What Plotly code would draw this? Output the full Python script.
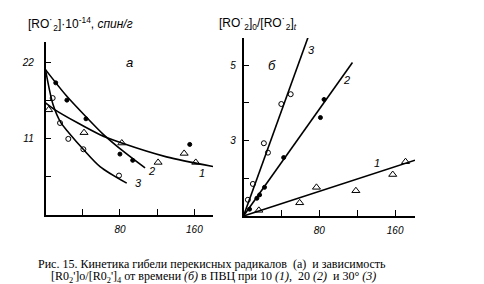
import plotly.graph_objects as go

# ---- data: panel a (decay of peroxy radicals) ----
a_t1 = [3.4, 41.4, 82, 121, 149, 161.5]
a_y1 = [15.2, 11.9, 10.4, 7.6, 8.9, 7.6]
a_t2 = [11, 23, 43.5, 80, 93.7, 155]
a_y2 = [19.1, 16.6, 13.9, 8.8, 7.9, 10.2]
a_t3 = [7.7, 15.6, 24.5, 40.7, 79]
a_y3 = [16.9, 13.3, 11.0, 9.5, 5.7]
# fitted curves
a_c1x = [0, 10.2, 58.6, 82, 130, 180]
a_c1y = [16.2, 15.2, 11.6, 10.4, 8.4, 7.0]
a_c2x = [0, 22, 43.5, 61.8, 85.5, 107]
a_c2y = [21.0, 17.3, 14.2, 11.7, 9.0, 6.8]
a_c3x = [0, 8, 16.7, 25, 40.6, 58.6, 87.3]
a_c3y = [21.0, 16.0, 13.3, 11.9, 9.5, 7.0, 4.6]

# ---- data: panel b ([RO2]0/[RO2]t vs time) ----
b_t1 = [16.2, 59.3, 77, 118.6, 157.5, 171]
b_y1 = [1.15, 1.35, 1.76, 1.67, 2.1, 2.44]
b_t2 = [6.4, 14.1, 17, 22.2, 42.4, 81.2, 85]
b_y2 = [1.18, 1.47, 1.56, 1.76, 2.55, 3.61, 4.09]
b_t3 = [4.6, 9.9, 21.5, 25.8, 39.9, 49.8]
b_y3 = [1.43, 1.85, 2.93, 2.68, 3.97, 4.23]
b_l1x = [0, 181]
b_l1y = [1, 2.48]
b_l2x = [0, 115]
b_l2y = [1, 5.07]
b_l3x = [0, 70.6]
b_l3y = [1, 5.91]

a_tickvals_x = [40, 80, 120, 160]
a_ticktext_x = ["", "80", "", "160"]
a_tickvals_y = [5.5, 11, 16.5, 22]
a_ticktext_y = ["", "11", "", "22"]
b_tickvals_x = [40, 80, 120, 160]
b_ticktext_x = ["", "80", "", "160"]
b_tickvals_y = [2, 3, 4, 5]
b_ticktext_y = ["", "3", "", "5"]

caption1 = "Рис. 15. Кинетика гибели перекисных радикалов  (а)  и зависимость"
caption2 = ("[R0<sub>2</sub>']o/[R0<sub>2</sub>']<sub>4</sub> от времени <i>(б)</i> в ПВЦ при 10 <i>(1)</i>,  "
            "20 <i>(2)</i>  и 30° <i>(3)</i>")

fig = go.Figure()
K = "black"
lw = 1.6

def line(x, y, xa, ya, shape="spline"):
    fig.add_trace(go.Scatter(x=x, y=y, mode="lines", xaxis=xa, yaxis=ya,
                             line=dict(color=K, width=lw, shape=shape, smoothing=0.8),
                             showlegend=False, hoverinfo="skip"))

def pts(x, y, xa, ya, sym, size):
    fig.add_trace(go.Scatter(x=x, y=y, mode="markers", xaxis=xa, yaxis=ya,
                             marker=dict(symbol=sym, size=size, color=K,
                                         line=dict(color=K, width=1)),
                             showlegend=False, hoverinfo="skip"))

# panel a
line(a_c1x, a_c1y, "x", "y")
line(a_c2x, a_c2y, "x", "y")
line(a_c3x, a_c3y, "x", "y")
pts(a_t1, a_y1, "x", "y", "triangle-up-open", 7)
pts(a_t2, a_y2, "x", "y", "circle", 4)
pts(a_t3, a_y3, "x", "y", "circle-open", 5)
# panel b
line(b_l1x, b_l1y, "x2", "y2", "linear")
line(b_l2x, b_l2y, "x2", "y2", "linear")
line(b_l3x, b_l3y, "x2", "y2", "linear")
pts(b_t1, b_y1, "x2", "y2", "triangle-up-open", 7)
pts(b_t2, b_y2, "x2", "y2", "circle", 4)
pts(b_t3, b_y3, "x2", "y2", "circle-open", 5)

tickfont = dict(family="Liberation Sans, Arial", size=10, color=K, style="italic")
common = dict(showline=True, linecolor=K, linewidth=1.5, showgrid=False, zeroline=False,
              ticks="inside", ticklen=6, tickcolor=K, tickwidth=1.2, tickfont=tickfont,
              tickmode="array", fixedrange=True)

fig.update_layout(
    width=484, height=284, margin=dict(l=0, r=0, t=0, b=0),
    paper_bgcolor="white", plot_bgcolor="white",
    xaxis=dict(domain=[45.5 / 484, 213 / 484], range=[0, 180],
               tickvals=a_tickvals_x, ticktext=a_ticktext_x, anchor="y",
               ticklabelstandoff=4, **common),
    yaxis=dict(domain=[1 - 215 / 284, 1 - 42 / 284], range=[0, 25],
               tickvals=a_tickvals_y, ticktext=a_ticktext_y, anchor="x",
               ticklabelstandoff=8, **common),
    xaxis2=dict(domain=[243.5 / 484, 415 / 484], range=[0, 181],
                tickvals=b_tickvals_x, ticktext=b_ticktext_x, anchor="y2",
                ticklabelstandoff=4, **common),
    yaxis2=dict(domain=[1 - 216 / 284, 1 - 38 / 284], range=[1, 5.72],
                tickvals=b_tickvals_y, ticktext=b_ticktext_y, anchor="x2",
                ticklabelstandoff=4, **common),
)

lab = dict(family="Liberation Sans, Arial", size=11, color=K, style="italic")
ann = [
    # curve numbers panel a
    dict(x=100, y=4.6, xref="x", yref="y", text="3"),
    dict(x=114, y=6.3, xref="x", yref="y", text="2"),
    dict(x=168, y=6.0, xref="x", yref="y", text="1"),
    dict(x=90, y=22, xref="x", yref="y", text="а", size=13),
    # curve numbers panel b
    dict(x=72, y=5.4, xref="x2", yref="y2", text="3"),
    dict(x=109, y=4.6, xref="x2", yref="y2", text="2"),
    dict(x=141, y=2.4, xref="x2", yref="y2", text="1"),
    dict(x=30, y=5.0, xref="x2", yref="y2", text="б", size=13),
]
for a in ann:
    f = dict(lab)
    if "size" in a:
        f["size"] = a.pop("size")
    fig.add_annotation(showarrow=False, font=f, **a)

# axis titles
tfont = dict(family="Liberation Sans Narrow, Liberation Sans, Arial", size=12, color=K)
fig.add_annotation(x=26 / 484, y=1 - 24 / 284, xref="paper", yref="paper", xanchor="left",
                   yanchor="middle", showarrow=False,
                   text="[RO˙<sub>2</sub>]·10<sup>-14</sup>, <i>спин/г</i>", font=tfont)
fig.add_annotation(x=217 / 484, y=1 - 24 / 284, xref="paper", yref="paper", xanchor="left",
                   yanchor="middle", showarrow=False,
                   text="[RO˙<sub>2</sub>]<sub>0</sub>/[RO˙<sub>2</sub>]<sub><i>t</i></sub>", font=tfont)

# caption
capfont = dict(family="Liberation Serif, Times New Roman", size=12, color=K)
fig.add_annotation(x=212 / 484, y=1 - 264 / 284, xref="paper", yref="paper", xanchor="center",
                   yanchor="middle", showarrow=False, text=caption1, font=capfont)
fig.add_annotation(x=213 / 484, y=1 - 276.5 / 284, xref="paper", yref="paper", xanchor="center",
                   yanchor="middle", showarrow=False, text=caption2, font=capfont)

fig.write_html("out.html")
